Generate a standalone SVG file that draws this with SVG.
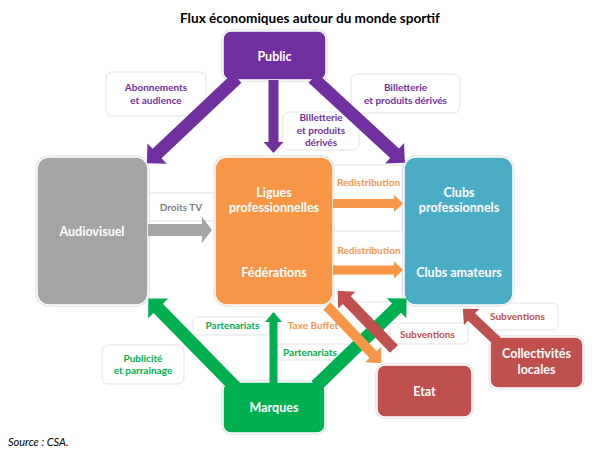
<svg xmlns="http://www.w3.org/2000/svg" width="592" height="454" viewBox="0 0 592 454">
<style>
  text { font-family: Lato, "Open Sans", "Liberation Sans", sans-serif; font-weight: bold; text-anchor: middle; }
  .title { font-size: 13.6px; fill: #000; }
  .nt { font-size: 12.5px; fill: #fff; }
  .lb { font-size: 10px; }
  .node { stroke: #fff; stroke-width: 1.5; }
  .shadow { fill: none; stroke: #d4d4d4; stroke-width: 3; }
  .lbox { fill: #fff; stroke: #e3e3e3; stroke-width: 1; }
  .purple { fill: #7030A0; }
  .gray { fill: #A5A5A5; }
  .orange { fill: #F79646; }
  .blue { fill: #4BACC6; }
  .green { fill: #00B050; }
  .red { fill: #C0504D; }
  .tp { fill: #7030A0; }
  .tg { fill: #7F7F7F; }
  .to { fill: #F79646; }
  .tgr { fill: #00B050; }
  .tr { fill: #C0504D; }
</style>
<rect width="592" height="454" fill="#fff"/>
<text class="title" x="310" y="23">Flux économiques autour du monde sportif</text>

<g id="labels">
  <rect class="lbox" x="106" y="72" width="100" height="44" rx="6"/>
  <rect class="lbox" x="351" y="74" width="109" height="39" rx="6"/>
  <rect class="lbox" x="283" y="112" width="76" height="38" rx="6"/>
  <rect class="lbox" x="148" y="193" width="67" height="28"/>
  <rect class="lbox" x="333" y="165" width="69" height="66"/>
  <rect class="lbox" x="333" y="268" width="69" height="34"/>
  <rect class="lbox" x="193" y="317" width="77" height="18" rx="4"/>
  <rect class="lbox" x="277" y="344" width="73" height="16" rx="4"/>
  <rect class="lbox" x="102" y="345" width="82" height="39" rx="6"/>
  <rect class="lbox" x="390" y="323" width="78" height="21" rx="4"/>
  <rect class="lbox" x="477" y="303" width="81" height="27" rx="5"/>
</g>

<g id="nodes">
  <g id="public">
    <rect class="shadow" x="223" y="31" width="103" height="49" rx="8"/>
    <rect class="node purple" x="223" y="31" width="103" height="49" rx="8"/>
    <text class="nt" x="274.5" y="61">Public</text>
  </g>
  <g id="audiovisuel">
    <rect class="shadow" x="37" y="157" width="111" height="148" rx="12"/>
    <rect class="node gray" x="37" y="157" width="111" height="148" rx="12"/>
    <text class="nt" x="92" y="236">Audiovisuel</text>
  </g>
  <g id="ligues">
    <rect class="shadow" x="215" y="157" width="118" height="148" rx="12"/>
    <rect class="node orange" x="215" y="157" width="118" height="148" rx="12"/>
    <text class="nt" x="274" y="197">Ligues</text>
    <text class="nt" x="274" y="212">professionnelles</text>
    <text class="nt" x="274" y="277">Fédérations</text>
  </g>
  <g id="clubs">
    <rect class="shadow" x="404" y="157" width="109" height="148" rx="12"/>
    <rect class="node blue" x="404" y="157" width="109" height="148" rx="12"/>
    <text class="nt" x="459" y="197">Clubs</text>
    <text class="nt" x="459" y="212">professionnels</text>
    <text class="nt" x="459" y="277">Clubs amateurs</text>
  </g>
  <g id="marques">
    <rect class="shadow" x="223" y="382" width="102" height="51" rx="8"/>
    <rect class="node green" x="223" y="382" width="102" height="51" rx="8"/>
    <text class="nt" x="274" y="412">Marques</text>
  </g>
  <g id="etat">
    <rect class="shadow" x="377" y="365" width="95" height="52" rx="8"/>
    <rect class="node red" x="377" y="365" width="95" height="52" rx="8"/>
    <text class="nt" x="424.5" y="396">Etat</text>
  </g>
  <g id="collectivites">
    <rect class="shadow" x="490" y="337" width="93" height="51" rx="8"/>
    <rect class="node red" x="490" y="337" width="93" height="51" rx="8"/>
    <text class="nt" x="536.5" y="358">Collectivités</text>
    <text class="nt" x="536.5" y="374">locales</text>
  </g>
</g>

<g id="connectors">
  <path class="purple" transform="translate(237,78) rotate(136.6)" d="M0,-6.5 L110,-6.5 L110,-14 L124,0 L110,14 L110,6.5 L0,6.5Z"/>
  <path class="purple" transform="translate(273.5,80) rotate(90)" d="M0,-5 L62,-5 L62,-10 L73,0 L62,10 L62,5 L0,5Z"/>
  <path class="purple" transform="translate(313,78) rotate(42.7)" d="M0,-6.5 L111,-6.5 L111,-14 L125,0 L111,14 L111,6.5 L0,6.5Z"/>
  <path class="gray" transform="translate(148,230)" d="M0,-6 L54,-6 L54,-13 L64,0 L54,13 L54,6 L0,6Z"/>
  <path class="orange" transform="translate(333,203.5)" d="M0,-4.5 L61,-4.5 L61,-8.5 L70,0 L61,8.5 L61,4.5 L0,4.5Z"/>
  <path class="orange" transform="translate(333,270)" d="M0,-4.5 L61,-4.5 L61,-8.5 L70,0 L61,8.5 L61,4.5 L0,4.5Z"/>
  <path class="green" transform="translate(240,392) rotate(-134.4)" d="M0,-6.5 L117,-6.5 L117,-14 L131,0 L117,14 L117,6.5 L0,6.5Z"/>
  <path class="green" transform="translate(273.5,383) rotate(-90)" d="M0,-4 L61,-4 L61,-8.5 L71,0 L61,8.5 L61,4 L0,4Z"/>
  <path class="green" transform="translate(316,386) rotate(-44)" d="M0,-6.5 L112,-6.5 L112,-14 L126,0 L112,14 L112,6.5 L0,6.5Z"/>
  <path class="orange" transform="translate(327,306) rotate(46.5)" d="M0,-5 L67,-5 L67,-11 L79,0 L67,11 L67,5 L0,5Z"/>
  <path class="red" transform="translate(394,349) rotate(-134)" d="M0,-5.5 L68,-5.5 L68,-12 L81,0 L68,12 L68,5.5 L0,5.5Z"/>
  <path class="red" transform="translate(497,341) rotate(-136.7)" d="M0,-5 L35,-5 L35,-11 L47,0 L35,11 L35,5 L0,5Z"/>
</g>

<g id="label-texts">
  <text class="lb tp" x="156" y="91">Abonnements</text>
  <text class="lb tp" x="156" y="104">et audience</text>
  <text class="lb tp" x="405.5" y="91">Billetterie</text>
  <text class="lb tp" x="405.5" y="104">et produits dérivés</text>
  <text class="lb tp" x="321" y="121">Billetterie</text>
  <text class="lb tp" x="321" y="134">et produits</text>
  <text class="lb tp" x="321" y="146">dérivés</text>
  <text class="lb tg" x="181" y="211">Droits TV</text>
  <text class="lb to" x="368.5" y="186">Redistribution</text>
  <text class="lb to" x="369" y="254">Redistribution</text>
  <text class="lb tgr" x="232.5" y="329">Partenariats</text>
  <text class="lb to" x="313" y="329">Taxe Buffet</text>
  <text class="lb tgr" x="310" y="356">Partenariats</text>
  <text class="lb tgr" x="143" y="362">Publicité</text>
  <text class="lb tgr" x="143" y="374">et parrainage</text>
  <text class="lb tr" x="427.5" y="338">Subventions</text>
  <text class="lb tr" x="517.5" y="320">Subventions</text>
</g>

<text x="8" y="446" style="font-family: Lato, 'Liberation Sans', sans-serif; font-weight: normal; font-style: italic; font-size: 11px; text-anchor: start; fill: #000;">Source : CSA.</text>
</svg>
